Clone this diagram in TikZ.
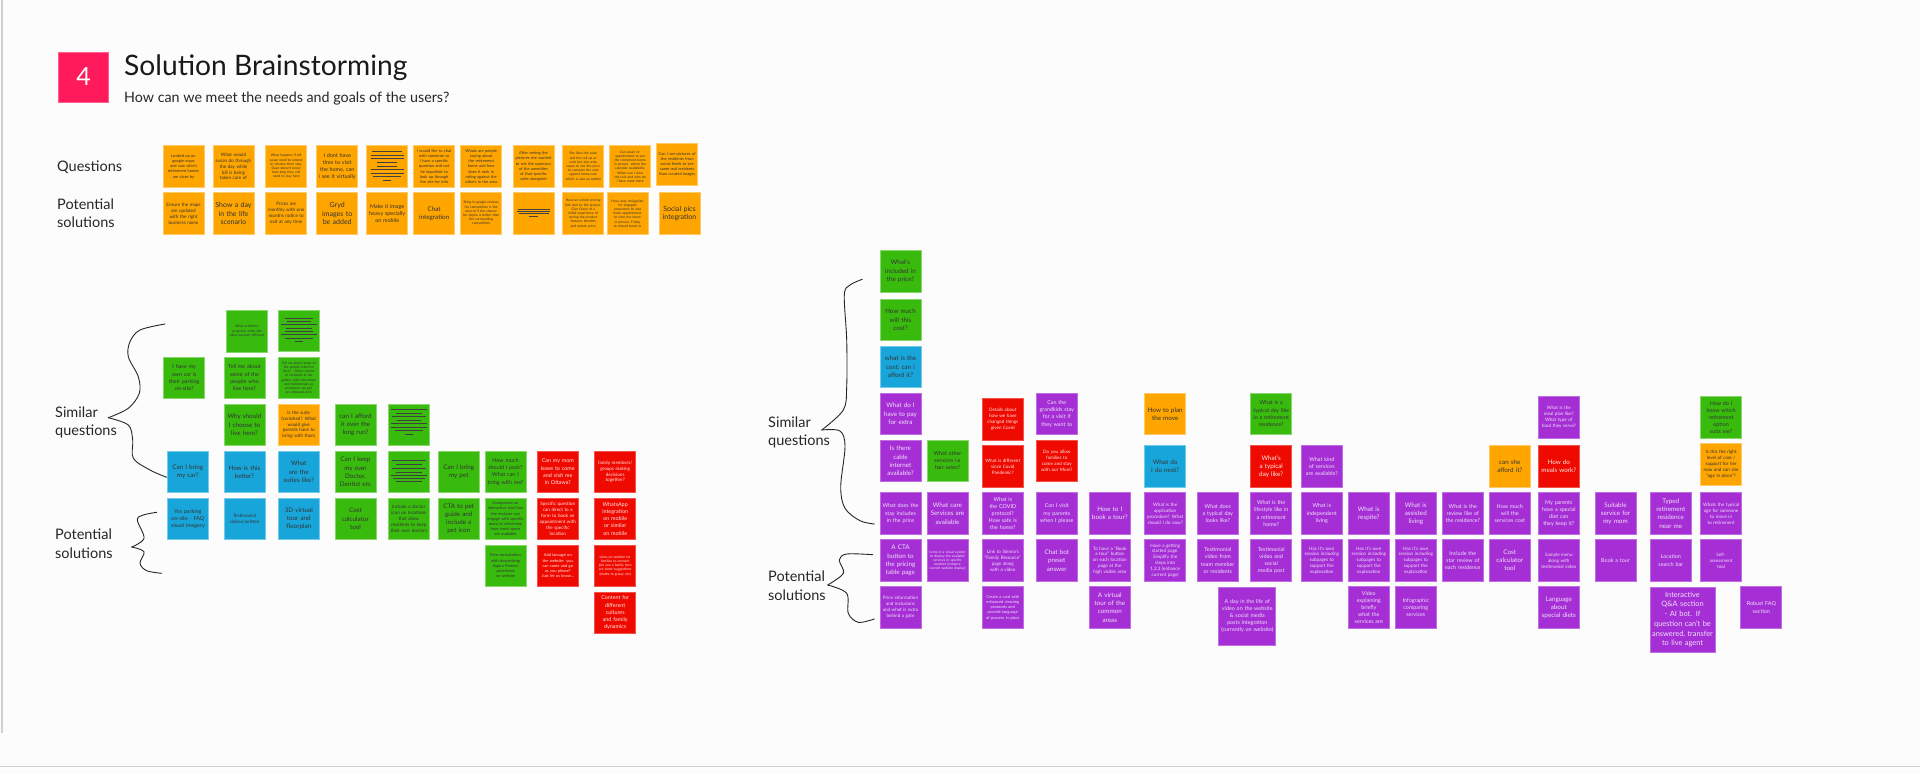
\documentclass[tikz,border=0pt]{standalone}
\usepackage{fontspec}
\setmainfont{Lato}
\usepackage{xcolor}
\usepackage{tikz}
\usetikzlibrary{positioning}
\hyphenpenalty=10000
\definecolor{bgcol}{HTML}{FCFCFC}
\definecolor{orcol}{HTML}{FFA500}
\definecolor{grcol}{HTML}{39BB0E}
\definecolor{blcol}{HTML}{18A6DA}
\definecolor{pucol}{HTML}{A52FD5}
\definecolor{rdcol}{HTML}{EF0A00}
\definecolor{pkcol}{HTML}{FF1A5B}
\tikzstyle{note} = [rectangle, text width=37pt, inner xsep=2pt, inner ysep=1pt,
    minimum height=41.5pt, text centered, line width=.8pt, font=\fontsize{6.5}{8}\selectfont]
\tikzstyle{onote} = [note, fill=orcol, draw=orcol!60!white, text=black!80]
\tikzstyle{gnote} = [note, fill=grcol, draw=grcol!60!white, text=black!80]
\tikzstyle{bnote} = [note, fill=blcol, draw=blcol!60!white, text=black!80]
\tikzstyle{pnote} = [note, fill=pucol, draw=pucol!70!white, text=white!85!pucol]
\tikzstyle{rnote} = [note, fill=rdcol, draw=rdcol!70!white, text=white!90!rdcol]
\tikzstyle{fa} = [font=\fontsize{3.4}{4.2}\selectfont]
\tikzstyle{fab} = [font=\fontsize{4}{5.2}\selectfont]
\tikzstyle{fb} = [font=\fontsize{4.6}{5.9}\selectfont]
\tikzstyle{fc} = [font=\fontsize{5.4}{7.2}\selectfont]
\tikzstyle{fd} = [font=\fontsize{6.3}{8.2}\selectfont]
\tikzstyle{fe} = [font=\fontsize{7}{8.6}\selectfont]
\tikzstyle{lab} = [text=black!85, anchor=north west, align=left, inner sep=0pt,
    font=\fontsize{14.5}{18.2}\selectfont]
\tikzstyle{brace} = [draw=black!85, line width=.9pt, line cap=round]
\tikzstyle{scrib} = [draw=black!75, line width=1pt]
\newcommand{\scribble}[2]{
  \foreach \dy/\hw in {#2}
    \path [scrib] ([xshift=-\hw pt,yshift=-\dy pt]#1.north) -- ([xshift=\hw pt,yshift=-\dy pt]#1.north);
}

\begin{document}
\begin{tikzpicture}[x=1pt, y=-1pt, node distance=47pt]
  \useasboundingbox (0,0) rectangle (1920,774);
  % Background and window edges
  \fill [bgcol] (0,0) rectangle (1920,774);
  \fill [black!18] (1,0) rectangle (3,733);
  \fill [black!18] (0,765.5) rectangle (1920,767);

  % Heading
  \node [rectangle, fill=pkcol, draw=pkcol!70!white, minimum size=50pt, text=white,
         font=\fontsize{25}{25}\selectfont] (badge) at (83.5,77) {4};
  \node [anchor=base west, inner sep=0pt, text=black!90, font=\fontsize{28.2}{30}\selectfont]
        (title) at (124,75.5) {Solution Brainstorming};
  \node [anchor=base west, inner sep=0pt, text=black!85, font=\fontsize{14.3}{15}\selectfont]
        (subtitle) at (124,102) {How can we meet the needs and goals of the users?};

  % Top rows
  \node [lab] (questions) at (57,160.5) {Questions};
  \node [lab] (solutions) at (57,198.5) {Potential\\solutions};

  \node [onote, fab] (tq1) at (183.5,166.5) {Looked up on google maps and saw which retirement homes are close by};
  \node [onote, fb, right of=tq1, node distance=50pt] (tq2) {What would susan do through the day while bill is being taken care of};
  \node [onote, fa, right of=tq2, node distance=52.7pt] (tq3) {What happens if bill susan need to extend or shorten their stay. Dave doesn't know how long they will need to stay here};
  \node [onote, fc, right of=tq3, node distance=51pt] (tq4) {I dont have time to visit the home, can i see it virtually};
  \node [onote, right of=tq4, node distance=50pt] (tq5) {};
  \node [onote, fab, right of=tq5] (tq6) {I would like to chat with someone so i have a specific question and not be impatient to look up through the site for info};
  \node [onote, fab, right of=tq6] (tq7) {Whats are people saying about the retirement home and how does it rank in rating against the others in the area};
  \node [onote, fab, right of=tq7, node distance=52.3pt] (tq8) {After seeing the pictures she wanted to see the summary of the amenities of that specific suite alongside};
  \node [onote, fa, right of=tq8, node distance=49.7pt] (tq9) {She likes the suite and the call up as such but also asks susan to see the price to compare the cost against home care which is also an option};
  \node [onote, fa, right of=tq9] (tq10) {Can susan re-appointment to see the retirement home in person. where the calendar availability. When can i view the unit and who do i have meet there};
  \node [onote, fab, right of=tq10, yshift=2pt] (tq11) {Can I see pictures of the residents from social feeds to see same real residents than curated images};

  \node [onote, fb, below of=tq1] (ts1) {Ensure the maps are updated with the right business name};
  \node [onote, fe, below of=tq2] (ts2) {Show a day in the life scenario};
  \node [onote, fb, below of=tq3] (ts3) {Prices are monthly with one months notice to exit at any time};
  \node [onote, fe, below of=tq4] (ts4) {Gryd images to be added};
  \node [onote, fc, below of=tq5] (ts5) {Make it image heavy specially on mobile};
  \node [onote, fd, below of=tq6] (ts6) {Chat integration};
  \node [onote, fa, below of=tq7] (ts7) {Bring in google reviews for competition is the area to if the chance for Aspira is better than the surrounding competition};
  \node [onote, below of=tq8] (ts8) {};
  \node [onote, fa, below of=tq9] (ts9) {Have an unlock pricing link next to the picture. Give Grace of a initial experience of seeing the product features benefits and unlock price};
  \node [onote, fa, below of=tq10, xshift=-2.7pt] (ts10) {Have easy navigation for engaged consumers to also book appointment to view the home in person. Friday as shared break in};
  \node [onote, fe, right of=ts9, node distance=96.3pt] (ts11) {Social pics integration};

  \scribble{tq5}{6.5/15,10/16.5,13.5/16.5,17/10,21/10,24.5/16.5,28/16.5,31.5/14,35/4}
  \scribble{ts8}{17.5/16,19.5/16.5,21.5/15,24.5/4.5}

  % Left group, similar questions
  \node [lab] (lsimilar) at (55,406.5) {Similar\\questions};
  \node [lab] (lpotential) at (55,529) {Potential\\solutions};
  \path [brace] plot [smooth, tension=.55] coordinates {(165,324) (140,330) (130,341.7) (128.3,356.7) (138.3,376.7) (139.3,393.3) (128.3,408.3) (108.3,417.7)};
  \path [brace] plot [smooth, tension=.55] coordinates {(108.3,417.7) (128.3,425) (132.7,440) (133.3,458.3) (150,470) (166.7,477.3)};
  \path [brace] plot [smooth, tension=.55] coordinates {(156.7,512.3) (143.3,515) (137.3,520) (144,538.3) (131.7,547)};
  \path [brace] plot [smooth, tension=.55] coordinates {(131.7,547) (144,551.7) (140,563.3) (146.7,570.7) (161.7,573.3)};

  \node [bnote, fd] (lq1) at (187.8,471.8) {Can I bring my car?};
  \node [bnote, fd, right of=lq1, node distance=56.7pt] (lq2) {How is this better?};
  \node [bnote, fd, right of=lq2, node distance=54.3pt] (lq3) {What are the suites like?};
  \node [gnote, fd, right of=lq3, node distance=56.7pt] (lq4) {Can I keep my own Doctor, Dentist etc};
  \node [gnote, right of=lq4, node distance=53.3pt] (lq5) {};
  \node [gnote, fd, right of=lq5, node distance=50pt] (lq6) {Can I bring my pet};
  \node [gnote, fc, right of=lq6, node distance=46.7pt] (lq7) {How much should I pack? What can I bring with me?};
  \node [rnote, fc, right of=lq7, node distance=52.3pt] (lq8) {Can my mom leave to come and visit me in Ottawa?};
  \node [rnote, fb, right of=lq8, node distance=57.4pt] (lq9) {family members/ groups making decisions together?};

  \node [gnote, fd, above of=lq2] (lq2a) {Why should I choose to live here?};
  \node [gnote, fc, above of=lq2a] (lq2b) {Tell me about some of the people who live here?};
  \node [onote, fb, above of=lq3] (lq3a) {Is the suite furnished? What would give parents have to bring with them};
  \node [gnote, fa, above of=lq3a] (lq3b) {Tell me about some of the people who live here? - Share stories of residents \& the gallery with interviews and testimonials so prospects can get an unbiased view};
  \node [gnote, above of=lq3b] (lq3c) {};
  \node [gnote, fd, above of=lq4] (lq4a) {can I afford it over the long run?};
  \node [gnote, above of=lq5] (lq5a) {};
  \node [gnote, fc] (lq1b) at (184.2,377.8) {I have my own car is their parking on-site?};
  \node [gnote, fa] (lq2c) at (247.2,331.2) {What activities/ programs make this place special/ different};

  \scribble{lq3c}{8.7/14,12/12,15.3/18,18.6/13,21.9/14,25.2/18,28.5/14,31.8/4}
  \scribble{lq5a}{6/18,9.5/13,13/17,16.5/12,20/18,23.5/18,27/14,30.5/4}
  \scribble{lq5}{10/17,14/13,17.7/17,21.7/13,24.7/18,27.7/16,31.3/13}

  % Left group, potential solutions
  \node [bnote, fc, below of=lq1] (ls1) {Yes parking on-site - FAQ visual imagery};
  \node [bnote, fb, below of=lq2] (ls2) {Testimonial videos/written};
  \node [bnote, fd, below of=lq3] (ls3) {3D virtual tour and floorplan};
  \node [gnote, fd, below of=lq4] (ls4) {Cost calculator tool};
  \node [gnote, fb, below of=lq5] (ls5) {Include a doctor icon on locations that allow residents to keep their own doctors};
  \node [gnote, fd, below of=lq6] (ls6) {CTA to pet guide and include a pet icon};
  \node [gnote, fab, below of=lq7] (ls7) {Incorporate an interactive tool that the enduser can engage with specific room to determine how much space are available};
  \node [rnote, fb, below of=lq8] (ls8) {Specific question can direct to a form to book an appointment with the specific location};
  \node [rnote, fc, below of=lq9] (ls9) {WhatsApp integration on mobile or similar on mobile};
  \node [gnote, fab, below of=ls7] (ls7a) {Free consultation with downsizing Aspira Partner advertised on website};
  \node [rnote, fab, below of=ls8] (ls8a) {Add lanuage on the website: you can come and go as you please? Just let us know...};
  \node [rnote, fa, below of=ls9] (ls9a) {Ideas on website for families to connect join you a family here are some suggestions (maths to group, etc)};
  \node [rnote, fc, below of=ls9a] (ls9b) {Content for different cultures and family dynamics};

  % Right group, similar questions
  \node [lab] (rsimilar) at (768,416.5) {Similar\\questions};
  \node [lab] (rpotential) at (768,571) {Potential\\solutions};
  \path [brace] plot [smooth, tension=.55] coordinates {(862.3,279.3) (850,285) (844.3,295) (846.7,340) (846.7,386.7) (843.3,410) (821.7,430)};
  \path [brace] plot [smooth, tension=.55] coordinates {(821.7,430) (840,431) (845,446.7) (840.7,486.7) (845,508.3) (860,520.7) (874.3,524)};
  \path [brace] plot [smooth, tension=.55] coordinates {(872.7,554.7) (846.7,554) (839.3,560) (843.3,573.3) (827.7,585)};
  \path [brace] plot [smooth, tension=.55] coordinates {(827.7,585) (846.7,593.3) (848.3,613.3) (858.3,622.3) (874.3,619)};

  \node [pnote, fc] (rq1) at (900.5,513.5) {What does the stay includes in the price};
  \node [pnote, fd, right of=rq1] (rq2) {What care Services are available};
  \node [pnote, fc, right of=rq2, node distance=55.3pt] (rq3) {What is the COVID protocol? How safe is the home?};
  \node [pnote, fc, right of=rq3, node distance=54pt] (rq4) {Can I visit my parents when I please};
  \node [pnote, fd, right of=rq4, node distance=53pt] (rq5) {How to I book a tour?};
  \node [pnote, fb, right of=rq5, node distance=55.4pt] (rq6) {What is the application procedure? What should I do now?};
  \node [pnote, fc, right of=rq6, node distance=52.6pt] (rq7) {What does a typical day looks like?};
  \node [pnote, fc, right of=rq7, node distance=53.4pt] (rq8) {What is the lifestyle like in a retirement home?};
  \node [pnote, fc, right of=rq8, node distance=50.6pt] (rq9) {What is independent living};
  \node [pnote, fd, right of=rq9] (rq10) {What is respite?};
  \node [pnote, fd, right of=rq10] (rq11) {What is assisted living};
  \node [pnote, fc, right of=rq11] (rq12) {What is the review like of the residence?};
  \node [pnote, fc, right of=rq12] (rq13) {How much will the services cost};
  \node [pnote, fc, right of=rq13, node distance=49pt] (rq14) {My parents have a special diet can they keep it?};
  \node [pnote, fd, right of=rq14, node distance=56.7pt] (rq15) {Suitable service for my mom};
  \node [pnote, fd, right of=rq15, node distance=55.3pt] (rq16) {Typed retirement residence near me};
  \node [pnote, fb, right of=rq16, node distance=50.3pt] (rq17) {Whats the typical age for someone to move in to retirement};

  \node [pnote, fd, above of=rq1, node distance=52.7pt] (rq1a) {Is there cable internet available?};
  \node [pnote, fd, above of=rq1a] (rq1b) {What do I have to pay for extra};
  \node [bnote, fd, above of=rq1b] (rq1c) {what is the cost; can i afford it?};
  \node [gnote, fd, above of=rq1c] (rq1d) {How much will this cost?};
  \node [gnote, fd, above of=rq1d, node distance=48.6pt] (rq1e) {What's included in the price?};
  \node [gnote, fc, above of=rq2, node distance=52.7pt] (rq2a) {What other services i.e hair salon?};
  \node [rnote, fb, above of=rq3] (rq3a) {What is different since Covid Pandemic?};
  \node [rnote, fb, above of=rq3a] (rq3b) {Details about how we have changed things given Covid};
  \node [rnote, fb, above of=rq4, node distance=52.7pt] (rq4a) {Do you allow families to come and stay with our Mom?};
  \node [pnote, fc, above of=rq4a] (rq4b) {Can the grandkids stay for a visit if they want to};
  \node [bnote, fd, above of=rq6] (rq6a) {What do I do next?};
  \node [onote, fd, above of=rq6a, node distance=52.7pt] (rq6b) {How to plan the move};
  \node [rnote, fd, above of=rq8] (rq8a) {What's a typical day like?};
  \node [gnote, fc, above of=rq8a, node distance=52.7pt] (rq8b) {What is a typical day like in a retirement residence?};
  \node [pnote, fc, above of=rq9] (rq9a) {What kind of services are available?};
  \node [onote, fd, above of=rq13] (rq13a) {can she afford it?};
  \node [rnote, fd, above of=rq14] (rq14a) {How do meals work?};
  \node [pnote, fb, above of=rq14a, node distance=49pt] (rq14b) {What is the meal plan like? What type of food they serve?};
  \node [onote, fb, above of=rq17, node distance=49pt] (rq17a) {Is this the right level of care / support for her now and can she ``age in place''?};
  \node [gnote, fc, above of=rq17a] (rq17b) {How do I know which retirement option suits me?};

  % Right group, potential solutions
  \node [pnote, fd, below of=rq1] (rs1) {A CTA button to the pricing table page};
  \node [pnote, fa, below of=rq2] (rs2) {Icons or a visual system to display the available services in specific location (enhance current website display)};
  \node [pnote, fb, below of=rq3] (rs3) {Link to Sienna's ``Family Resource'' page along with a video};
  \node [pnote, fd, below of=rq4] (rs4) {Chat bot preset answer};
  \node [pnote, fb, below of=rq5] (rs5) {To have a ``Book a tour'' button on each location page at the high visible area};
  \node [pnote, fb, below of=rq6] (rs6) {Have a getting started page. Simplify the steps into 1,2,3 (enhance current page)};
  \node [pnote, fc, below of=rq7] (rs7) {Testimonial video from team member or residents};
  \node [pnote, fc, below of=rq8] (rs8) {Testimonial video and social media post};
  \node [pnote, fb, below of=rq9] (rs9) {Has it's own session including subpages to support the explanation};
  \node [pnote, fb, below of=rq10] (rs10) {Has it's own session including subpages to support the explanation};
  \node [pnote, fb, below of=rq11] (rs11) {Has it's own session including subpages to support the explanation};
  \node [pnote, fc, below of=rq12] (rs12) {Include the star review of each residence};
  \node [pnote, fd, below of=rq13] (rs13) {Cost calculator tool};
  \node [pnote, fb, below of=rq14] (rs14) {Sample menu along with testimonial video};
  \node [pnote, fc, below of=rq15] (rs15) {Book a tour};
  \node [pnote, fc, below of=rq16] (rs16) {Location search bar};
  \node [pnote, fb, below of=rq17] (rs17) {Self-\\assessment\\tool};

  \node [pnote, fb, below of=rs1] (rs1a) {Price information and inclusions and what is extra behind a gate};
  \node [pnote, fab, below of=rs3] (rs3a) {Create a card with enhanced cleaning protocols and provide language of process in place};
  \node [pnote, fd, below of=rs5] (rs5a) {A virtual tour of the common areas};
  \node [pnote, fc, below of=rs10] (rs10a) {Video explaining briefly what the services are};
  \node [pnote, fc, below of=rs11] (rs11a) {Infographic comparing services};
  \node [pnote, fd, below of=rs14] (rs14a) {Language about special diets};
  \node [pnote, fc, right of=rs14a, node distance=202.5pt] (rs18) {Robust FAQ section};
  \node [pnote, fc, text width=53pt, minimum height=58pt] (rs7a) at (1247.3,616) {A day in the life of video on the website \& social media posts integration (currently on website)};
  \node [pnote, text width=61pt, minimum height=65pt, font=\fontsize{7.4}{9.7}\selectfont] (rs16a) at (1682.5,619.5) {Interactive Q\&A section - AI bot. If question can't be answered, transfer to live agent};
\end{tikzpicture}
\end{document}
